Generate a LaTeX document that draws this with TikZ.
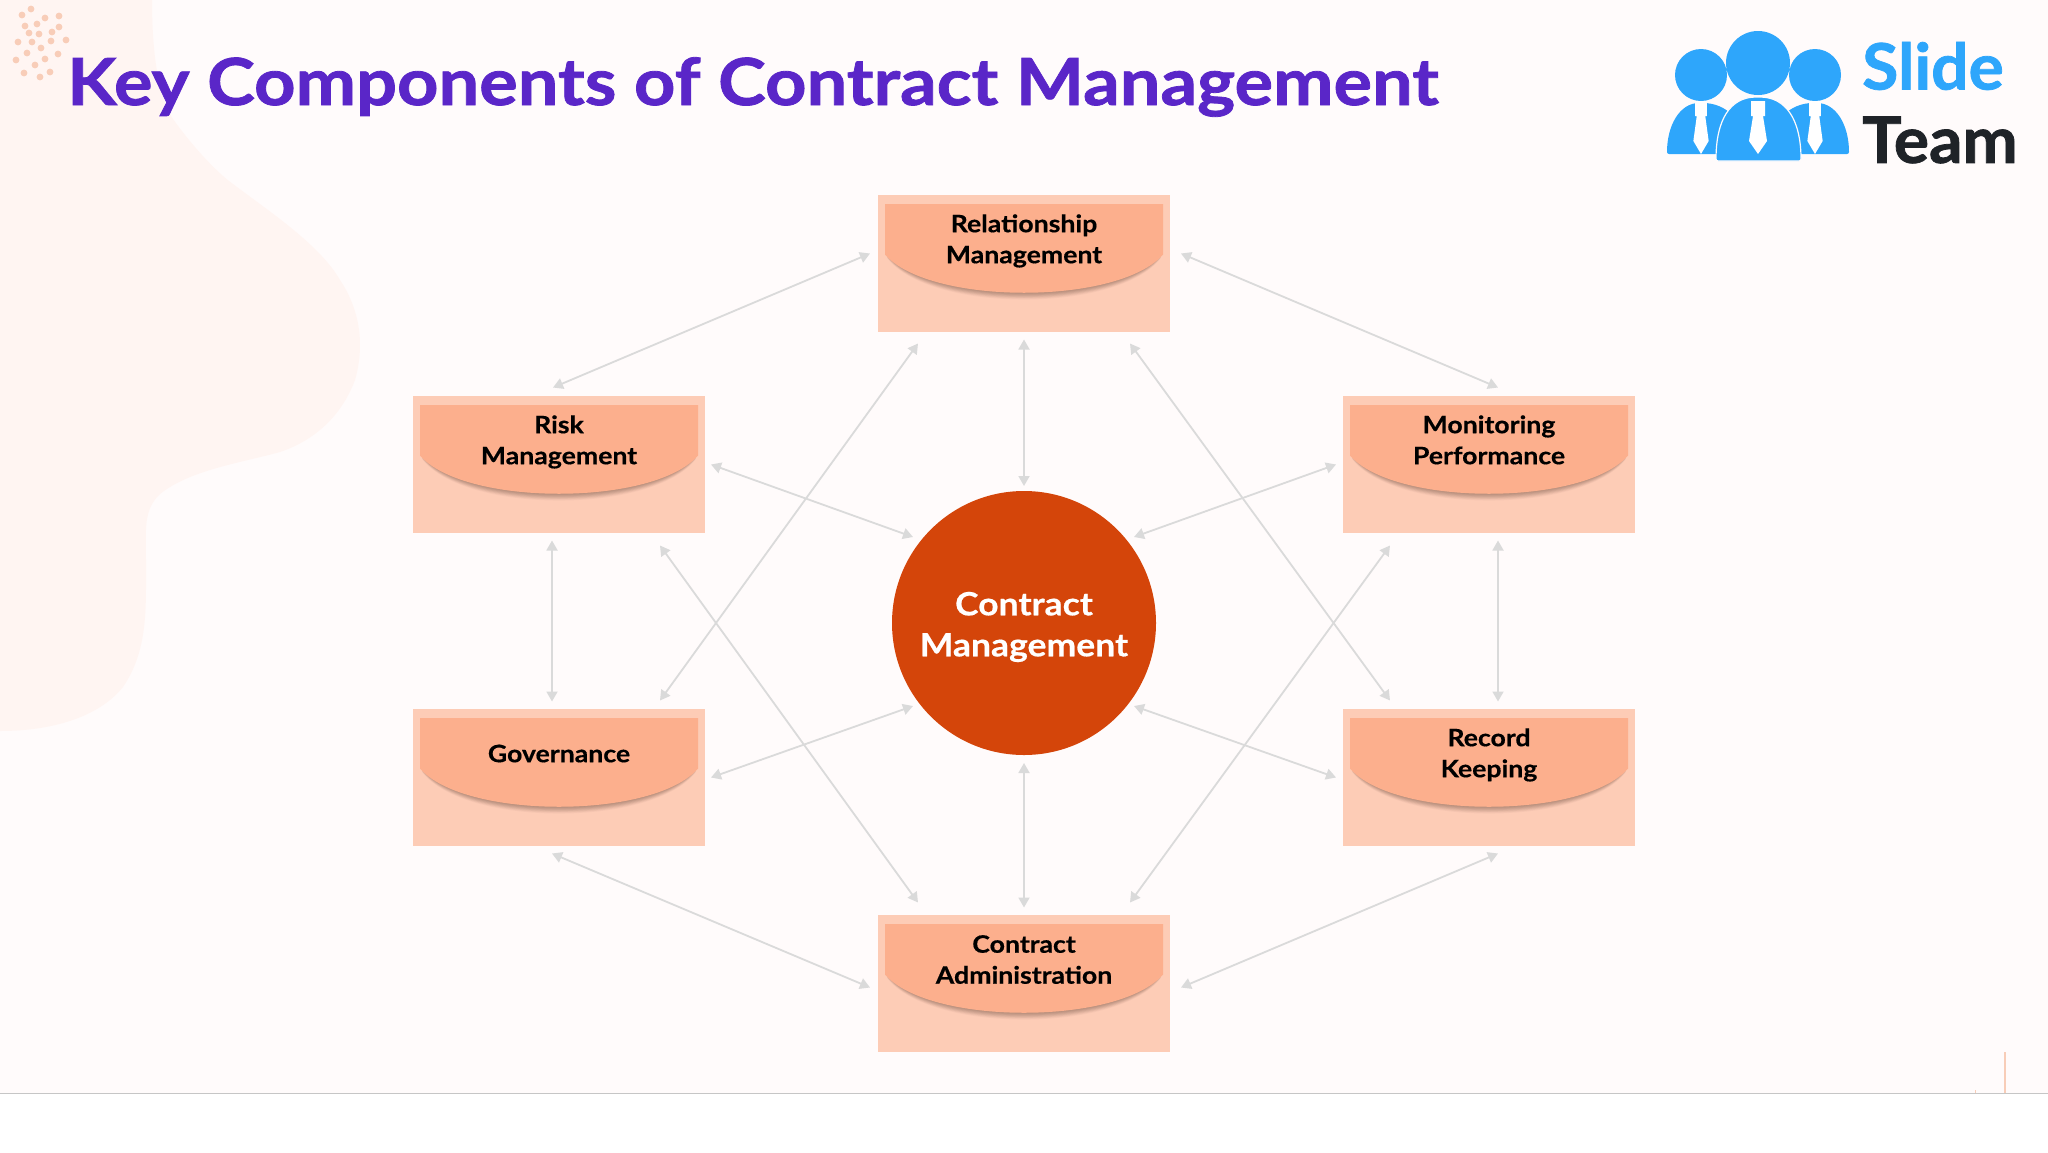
\documentclass[tikz,border=0pt]{standalone}
\usepackage{fontspec}
\setmainfont{Lato}[FakeStretch=1.11,FakeBold=0.5]
\newfontfamily\titlefont{Lato}[FakeStretch=1.11,FakeBold=1.2]
\newfontfamily\logofont{Lato}[FakeStretch=1.03,FakeBold=1.2]
\usetikzlibrary{calc,arrows.meta}
\definecolor{bgpink}{HTML}{FFFBFB}
\definecolor{blob}{HTML}{FFF5F2}
\definecolor{dotc}{HTML}{F8CDB8}
\definecolor{titlec}{HTML}{5A26C8}
\definecolor{boxo}{HTML}{FDCCB6}
\definecolor{boxi}{HTML}{FCAF8D}
\definecolor{hub}{HTML}{D4450A}
\definecolor{conn}{HTML}{DADADA}
\definecolor{logob}{HTML}{2EA6FB}
\definecolor{logod}{HTML}{1F2328}
\tikzset{
 x=1pt,y=-1pt,
 outerbox/.style={rectangle,fill=boxo,minimum width=292pt,minimum height=137pt,inner sep=0pt},
 label/.style={align=center,font=\fontsize{24}{31}\selectfont\bfseries,text=black,inner sep=0pt},
 link/.style={draw=conn,line width=1.8pt,{Triangle[length=10pt,width=11pt]}-{Triangle[length=10pt,width=11pt]}},
 seed/.style={fill=dotc,draw=none},
}
\newcommand{\boxface}[1]{%
 \foreach \o/\k in {8/.04,7/.05,6/.06,5/.07,4/.07,3/.08,2/.08,1/.08}{
  \fill[black!60!boxi,opacity=\k] ($(#1)+(-137,-9+.4*\o)$) .. controls ($(#1)+(-95,42+\o)$) and ($(#1)+(95,42+\o)$) .. ($(#1)+(137,-9+.4*\o)$) -- cycle;}
 \fill[boxi] ($(#1)+(-139,-59.5)$) -- ($(#1)+(139,-59.5)$) -- ($(#1)+(139,-9)$) .. controls ($(#1)+(95,42)$) and ($(#1)+(-95,42)$) .. ($(#1)+(-139,-9)$) -- cycle;
}
\newcommand{\two}[2]{#1\strut\\#2\strut}
\begin{document}
\begin{tikzpicture}
\useasboundingbox (0,0) rectangle (2048,1152);
\fill[white] (0,0) rectangle (2048,1152);
\fill[bgpink] (0,0) rectangle (2048,1093);
\fill[blob] (0,0) -- (152,0) .. controls (152,60) and (160,100) .. (173,119)
 .. controls (195,150) and (220,175) .. (233,184)
 .. controls (270,212) and (320,245) .. (340,280)
 .. controls (360,310) and (365,345) .. (355,380)
 .. controls (340,420) and (310,442) .. (280,452)
 .. controls (240,463) and (190,470) .. (160,494)
 .. controls (143,510) and (146,530) .. (146,560)
 .. controls (146,610) and (148,650) .. (123,687)
 .. controls (98,718) and (50,731) .. (0,731) -- cycle;
\draw[gray!45,line width=1pt] (0,1093) -- (2048,1093);
\draw[dotc,line width=1.2pt] (2005,1052) -- (2005,1093);
\draw[dotc,line width=1pt] (1975,1090) -- (1975,1093);
\foreach \p in {(31,9),(22,15),(45,18),(59,16),(25,26),(37,24),(59,27),(29,33),(39,34),(52,32),(18,42),(32,42),(51,41),(66,40),(41,48),(27,53),(58,54),(16,60),(45,59),(35,65),(24,73),(40,77),(50,72)}
  \fill[seed] \p circle (3.4);
\node[anchor=west,inner sep=0pt,text=titlec,font=\titlefont\fontsize{65}{80}\selectfont\bfseries] (title) at (67,87) {Key Components of Contract Management};
% logo
\fill[logob] (1701,75) circle (26) (1815,75) circle (26) (1758,63) circle (32);
\fill[logob,rounded corners=2pt] (1667,154) .. controls (1667,125) and (1680,103) .. (1701,103) .. controls (1715,103) and (1725,108) .. (1732,115) -- (1732,154) -- cycle;
\fill[logob,rounded corners=2pt] (1849,154) .. controls (1849,125) and (1836,103) .. (1815,103) .. controls (1801,103) and (1791,108) .. (1784,115) -- (1784,154) -- cycle;
\fill[logob,draw=bgpink,line width=1.2pt,rounded corners=2pt] (1716,161) .. controls (1716,120) and (1730,97) .. (1758,97) .. controls (1786,97) and (1801,120) .. (1801,161) -- cycle;
\foreach \c/\s in {1758/1,1701/.85,1815/.85}{
 \fill[white] (\c-7*\s,101) -- (\c+7*\s,101) -- (\c+7*\s,116) -- (\c+5*\s,116) -- (\c+9*\s,141) -- (\c,154) -- (\c-9*\s,141) -- (\c-5*\s,116) -- (\c-7*\s,116) -- cycle;}
\node[anchor=west,inner sep=0pt,text=logob,font=\logofont\fontsize{64}{70}\selectfont\bfseries] (slide) at (1862,66) {Slide};
\node[anchor=west,inner sep=0pt,text=logod,font=\logofont\fontsize{64}{70}\selectfont\bfseries] (team) at (1862,140) {Team};
% boxes
\node[outerbox] (rel) at (1024,263.5) {};
\node[outerbox] (risk) at (559,464.5) {};
\node[outerbox] (mon) at (1489,464.5) {};
\node[outerbox] (gov) at (559,777.5) {};
\node[outerbox] (rec) at (1489,777.5) {};
\node[outerbox] (adm) at (1024,983.5) {};
\foreach \b in {rel,risk,mon,gov,rec,adm}{\boxface{\b}}
\node[circle,fill=hub,minimum size=264pt,inner sep=0pt] (hubc) at (1024,623) {};
\node[align=center,inner sep=0pt,text=white,font=\fontsize{32}{41}\selectfont\bfseries] (hubt) at (1024,627) {Contract\\Management};
\node[label] (relt) at (1024,241.5) {\two{Relationship}{Management}};
\node[label] (riskt) at (559,442.5) {\two{Risk}{Management}};
\node[label] (mont) at (1489,442.5) {\two{Monitoring}{Performance}};
\node[label] (govt) at (559,756) {Governance\strut};
\node[label] (rect) at (1489,755.5) {\two{Record}{Keeping}};
\node[label] (admt) at (1024,962) {\two{Contract}{Administration}};
% connectors
\draw[link] ($(rel)+(-154,-10)$) -- ($(risk)+(-6,-77)$);
\draw[link] ($(rel)+(157,-10)$) -- ($(mon)+(9,-77)$);
\draw[link] ($(rel)+(0,76)$) -- ($(hubc)+(0,-137)$);
\draw[link] ($(rel)+(-106,80)$) -- ($(gov)+(101,-77)$);
\draw[link] ($(rel)+(106,80)$) -- ($(rec)+(-99,-77)$);
\draw[link] ($(risk)+(152,0)$) -- ($(hubc)+(-111,-86)$);
\draw[link] ($(mon)+(-153,0)$) -- ($(hubc)+(110,-86)$);
\draw[link] ($(risk)+(-7,76)$) -- ($(gov)+(-7,-76)$);
\draw[link] ($(mon)+(9,76)$) -- ($(rec)+(9,-76)$);
\draw[link] ($(risk)+(101,81)$) -- ($(adm)+(-106,-81)$);
\draw[link] ($(mon)+(-99,81)$) -- ($(adm)+(106,-81)$);
\draw[link] ($(gov)+(152,0)$) -- ($(hubc)+(-111,83)$);
\draw[link] ($(rec)+(-153,0)$) -- ($(hubc)+(110,83)$);
\draw[link] ($(gov)+(-7,76)$) -- ($(adm)+(-154,4)$);
\draw[link] ($(rec)+(9,76)$) -- ($(adm)+(157,4)$);
\draw[link] ($(adm)+(0,-76)$) -- ($(hubc)+(0,140)$);
\end{tikzpicture}
\end{document}
